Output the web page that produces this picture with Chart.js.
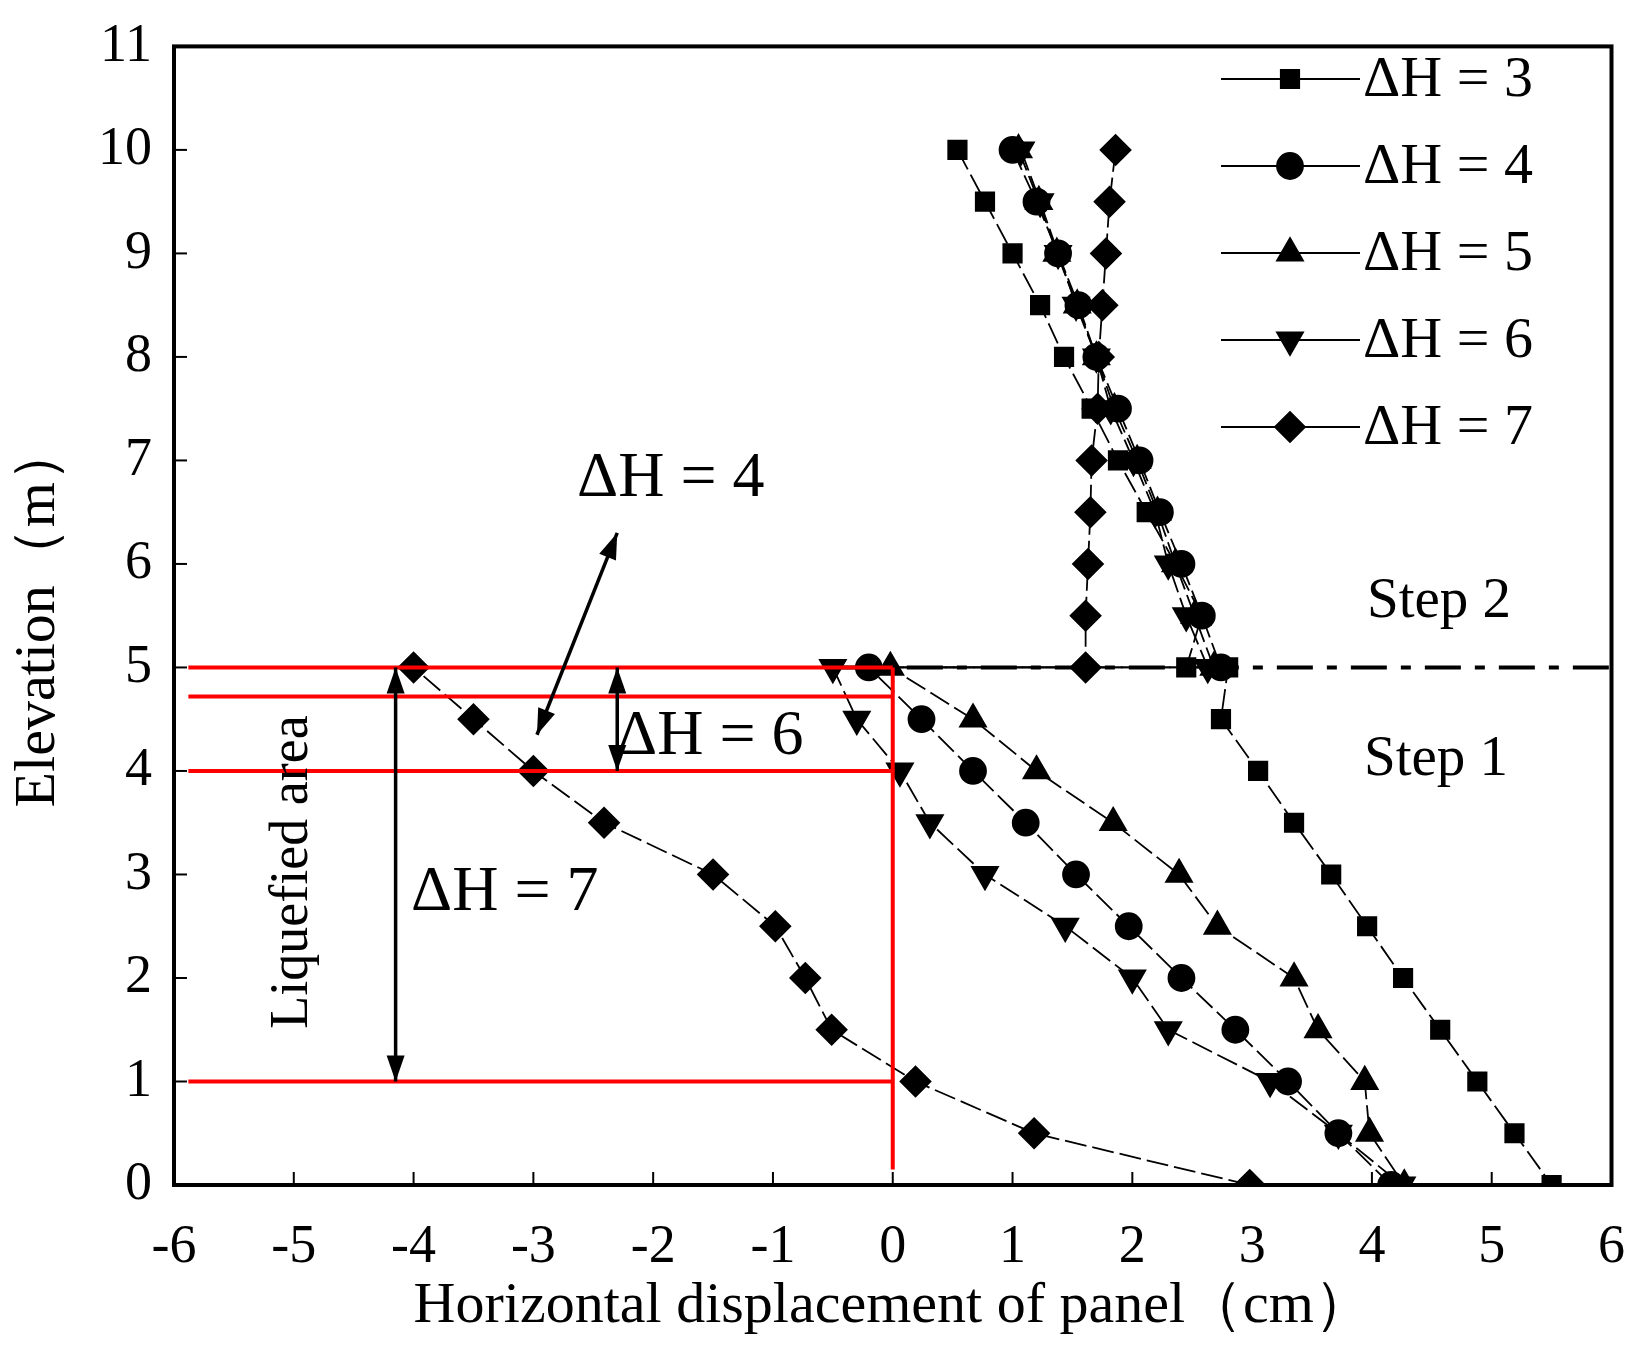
<!DOCTYPE html>
<html>
<head>
<meta charset="utf-8">
<script src="https://cdn.jsdelivr.net/npm/chart.js@4/dist/chart.umd.min.js"></script>
<style>
  html, body { margin: 0; padding: 0; background: #fff; }
  #wrap { width: 1647px; height: 1360px; }
</style>
</head>
<body>
<div id="wrap"><canvas id="c"></canvas></div>
<script>
// Elevations, top to bottom (step 2 then step 1, both contain 5)
const elev = [10, 9.5, 9, 8.5, 8, 7.5, 7, 6.5, 6, 5.5, 5, 5, 4.5, 4, 3.5, 3, 2.5, 2, 1.5, 1, 0.5, 0];

const dH3 = [0.54, 0.77, 1.0, 1.23, 1.43, 1.66, 1.88, 2.12, 2.36, 2.58, 2.45, 2.8, 2.74, 3.05, 3.35, 3.66, 3.96, 4.26, 4.57, 4.88, 5.19, 5.5];
const dH4 = [1.0, 1.2, 1.38, 1.55, 1.7, 1.88, 2.06, 2.23, 2.41, 2.58, 2.74, -0.2, 0.24, 0.67, 1.11, 1.53, 1.97, 2.41, 2.86, 3.3, 3.72, 4.16];
const dH5 = [1.05, 1.22, 1.37, 1.54, 1.7, 1.85, 2.04, 2.21, 2.36, 2.52, 2.68, -0.02, 0.67, 1.2, 1.84, 2.39, 2.71, 3.35, 3.55, 3.94, 3.98, 4.27];
const dH6 = [1.07, 1.23, 1.38, 1.53, 1.7, 1.82, 2.01, 2.19, 2.3, 2.45, 2.63, -0.5, -0.3, 0.06, 0.31, 0.77, 1.44, 2.0, 2.3, 3.15, 3.72, 4.25];
const dH7 = [1.86, 1.81, 1.78, 1.75, 1.72, 1.71, 1.66, 1.65, 1.63, 1.61, 1.61, -4.0, -3.5, -3.0, -2.41, -1.5, -0.98, -0.73, -0.51, 0.19, 1.18, 2.98];

const seriesNames = ["ΔH = 3", "ΔH = 4", "ΔH = 5", "ΔH = 6", "ΔH = 7"];
const seriesData = [dH3, dH4, dH5, dH6, dH7];
const markers = ["rect", "circle", "triangle", "triangle", "rectRot"];
const rotations = [0, 0, 0, 180, 0];
const markerSizes = [13, 13, 15, 15, 15];

const xTicks = [-6, -5, -4, -3, -2, -1, 0, 1, 2, 3, 4, 5, 6];
const yTicks = [0, 1, 2, 3, 4, 5, 6, 7, 8, 9, 10, 11];

// red liquefied-zone lines (elevation values)
const redLevels = [5, 4.72, 4, 1];

const FONT = "'Liberation Serif', 'DejaVu Serif', serif";

const datasets = seriesData.map((vals, i) => ({
    label: seriesNames[i],
    data: vals.map((v, k) => ({ x: v, y: elev[k] })),
    borderColor: "#000",
    backgroundColor: "#000",
    borderWidth: 1.8,
    borderDash: [22, 6],
    pointStyle: markers[i],
    pointRotation: rotations[i],
    pointRadius: markerSizes[i],
    pointBackgroundColor: "#000",
    pointBorderColor: "#000",
    showLine: true,
    tension: 0
}));

function arrowHead(ctx, x1, y1, x2, y2) {
    const a = Math.atan2(y2 - y1, x2 - x1);
    const L = 26, W = 9;
    ctx.beginPath();
    ctx.moveTo(x2, y2);
    ctx.lineTo(x2 - L * Math.cos(a) + W * Math.sin(a), y2 - L * Math.sin(a) - W * Math.cos(a));
    ctx.lineTo(x2 - L * Math.cos(a) - W * Math.sin(a), y2 - L * Math.sin(a) + W * Math.cos(a));
    ctx.closePath();
    ctx.fill();
}

function doubleArrow(ctx, x1, y1, x2, y2) {
    ctx.beginPath();
    ctx.moveTo(x1, y1);
    ctx.lineTo(x2, y2);
    ctx.stroke();
    arrowHead(ctx, x1, y1, x2, y2);
    arrowHead(ctx, x2, y2, x1, y1);
}

const decor = {
    id: "decor",
    beforeDatasetsDraw(chart) {
        const { ctx, scales: { x, y } } = chart;
        ctx.save();
        ctx.strokeStyle = "#000";
        ctx.lineWidth = 4;
        ctx.setLineDash([36, 14, 10, 14]);
        ctx.beginPath();
        ctx.moveTo(x.getPixelForValue(-0.5), y.getPixelForValue(5));
        ctx.lineTo(x.getPixelForValue(6), y.getPixelForValue(5));
        ctx.stroke();
        ctx.restore();
    },
    afterDatasetsDraw(chart) {
        const { ctx, chartArea: a, scales: { x, y } } = chart;
        ctx.save();
        ctx.strokeStyle = "#ff0000";
        ctx.lineWidth = 4;
        redLevels.forEach(v => {
            ctx.beginPath();
            ctx.moveTo(x.getPixelForValue(-5.88), y.getPixelForValue(v));
            ctx.lineTo(x.getPixelForValue(0), y.getPixelForValue(v));
            ctx.stroke();
        });
        ctx.beginPath();
        ctx.moveTo(x.getPixelForValue(0), y.getPixelForValue(5));
        ctx.lineTo(x.getPixelForValue(0), y.getPixelForValue(0.15));
        ctx.stroke();

        ctx.strokeStyle = "#000";
        ctx.fillStyle = "#000";
        ctx.lineWidth = 3.5;
        doubleArrow(ctx, x.getPixelForValue(-4.15), y.getPixelForValue(5), x.getPixelForValue(-4.15), y.getPixelForValue(1));
        doubleArrow(ctx, x.getPixelForValue(-2.3), y.getPixelForValue(5), x.getPixelForValue(-2.3), y.getPixelForValue(4));
        doubleArrow(ctx, x.getPixelForValue(-2.97), y.getPixelForValue(4.35), x.getPixelForValue(-2.3), y.getPixelForValue(6.3));

        ctx.font = "64px " + FONT;
        ctx.textBaseline = "middle";
        ctx.textAlign = "left";
        ctx.fillText("ΔH = 4", 577, 479);
        ctx.fillText("ΔH = 6", 616, 737);
        ctx.fillText("ΔH = 7", 411, 893);
        ctx.font = "57px " + FONT;
        ctx.fillText("Step 2", 1367, 602);
        ctx.fillText("Step 1", 1364, 760);
        ctx.save();
        ctx.translate(293, 872);
        ctx.rotate(-Math.PI / 2);
        ctx.textAlign = "center";
        ctx.font = "54px " + FONT;
        ctx.fillText("Liquefied area", 0, 0);
        ctx.restore();

        ctx.lineWidth = 4;
        ctx.strokeRect(a.left, a.top, a.right - a.left, a.bottom - a.top);
        ctx.lineWidth = 2;
        xTicks.forEach(v => {
            const px = x.getPixelForValue(v);
            ctx.beginPath();
            ctx.moveTo(px, a.bottom);
            ctx.lineTo(px, a.bottom - 13);
            ctx.stroke();
        });
        yTicks.forEach(v => {
            const py = y.getPixelForValue(v);
            ctx.beginPath();
            ctx.moveTo(a.left, py);
            ctx.lineTo(a.left + 13, py);
            ctx.stroke();
        });

        // legend
        ctx.font = "58px " + FONT;
        ctx.textAlign = "left";
        chart.data.datasets.forEach((ds, i) => {
            const ly = 79 + i * 87;
            ctx.lineWidth = 1.8;
            ctx.beginPath();
            ctx.moveTo(1221, ly);
            ctx.lineTo(1360, ly);
            ctx.stroke();
            Chart.helpers.drawPoint(ctx, {
                pointStyle: ds.pointStyle,
                rotation: ds.pointRotation,
                radius: ds.pointRadius,
                borderWidth: 1
            }, 1290, ly);
            ctx.fill();
            ctx.fillText(ds.label, 1363, ly + 2);
        });
        ctx.restore();
    }
};

new Chart(document.getElementById("c"), {
    type: "scatter",
    data: { datasets },
    options: {
        responsive: true,
        maintainAspectRatio: false,
        animation: false,
        layout: { padding: { top: 42, right: 31, left: 0, bottom: 18 } },
        plugins: { legend: { display: false }, tooltip: { enabled: false } },
        scales: {
            x: {
                min: -6, max: 6,
                afterBuildTicks: s => { s.ticks = xTicks.map(v => ({ value: v })); },
                afterFit: s => { s.height = 157; },
                grid: { display: false },
                border: { display: false },
                ticks: { color: "#000", font: { family: FONT, size: 54 }, padding: 22 },
                title: { display: true, text: "Horizontal displacement of panel（cm）", color: "#000", font: { family: FONT, size: 58 }, padding: { top: 0, bottom: 0 } }
            },
            y: {
                min: 0, max: 11,
                afterBuildTicks: s => { s.ticks = yTicks.map(v => ({ value: v })); },
                afterFit: s => { s.width = 174; },
                grid: { display: false },
                border: { display: false },
                ticks: { color: "#000", font: { family: FONT, size: 54 }, padding: 14 },
                title: { display: true, text: "Elevation（m）", color: "#000", font: { family: FONT, size: 58 }, padding: { bottom: 0 } }
            }
        }
    },
    plugins: [decor]
});
</script>
</body>
</html>
